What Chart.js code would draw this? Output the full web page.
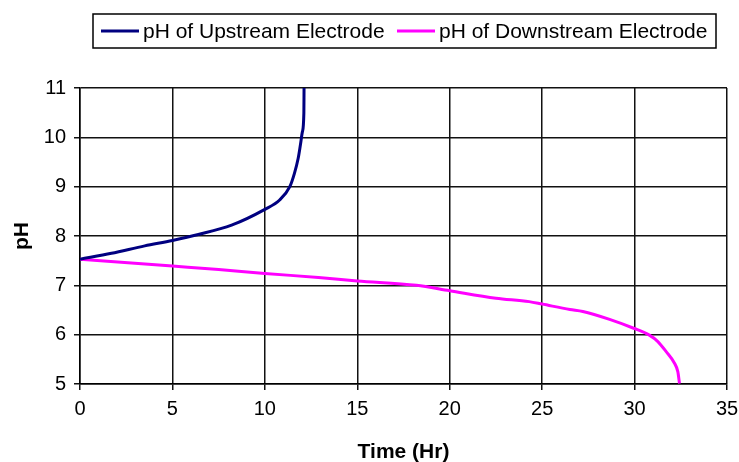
<!DOCTYPE html>
<html>
<head>
<meta charset="utf-8">
<script src="https://cdn.jsdelivr.net/npm/chart.js@4/dist/chart.umd.min.js"></script>
<style>
  html, body { margin: 0; padding: 0; background: #fff; }
  #wrap { width: 739px; height: 462px; }
</style>
</head>
<body>
<div id="wrap"><canvas id="phChart" width="739" height="462"></canvas></div>
<script>
// Upstream electrode readings
const upTime = [0, 1.7, 3.5, 5.0, 6.4, 8.2, 10.0, 10.8, 11.35, 11.6, 11.8, 11.92, 12.03, 12.11, 12.12];
const upPH   = [7.53, 7.65, 7.80, 7.91, 8.03, 8.22, 8.54, 8.73, 9.0, 9.27, 9.57, 9.84, 10.11, 10.49, 11.0];

// Downstream electrode readings
const downTime = [0, 5, 7.5, 10, 12.9, 15, 18.2, 20, 22.5, 24.3, 25, 26.5, 27.2, 28.65, 29.95, 30.8, 31.26, 31.7, 32.16, 32.34, 32.43];
const downPH   = [7.53, 7.39, 7.32, 7.24, 7.16, 7.09, 7.0, 6.89, 6.74, 6.67, 6.62, 6.51, 6.47, 6.31, 6.13, 5.99, 5.86, 5.66, 5.42, 5.25, 5.01];

const seriesNames = ['pH of Upstream Electrode', 'pH of Downstream Electrode'];
const seriesColors = ['#000080', '#FF00FF'];

const FONT = '"Liberation Sans", Arial, sans-serif';

function toPoints(xs, ys) {
    return xs.map((x, i) => ({ x: x, y: ys[i] }));
}

// boxed legend across the top
const boxedLegend = {
    id: 'boxedLegend',
    afterDraw(chart) {
        const ctx = chart.ctx;
        ctx.save();
        ctx.strokeStyle = '#000';
        ctx.lineWidth = 1.5;
        ctx.strokeRect(93, 14, 623, 34);
        ctx.font = '21px ' + FONT;
        ctx.textBaseline = 'middle';
        ctx.fillStyle = '#000';
        const starts = [101, 397];
        chart.data.datasets.forEach((ds, i) => {
            const x = starts[i];
            ctx.beginPath();
            ctx.strokeStyle = ds.borderColor;
            ctx.lineWidth = 3;
            ctx.moveTo(x, 31);
            ctx.lineTo(x + 38, 31);
            ctx.stroke();
            ctx.fillText(ds.label, x + 42, 32);
        });
        ctx.restore();
    }
};

new Chart(document.getElementById('phChart').getContext('2d'), {
    type: 'scatter',
    data: {
        datasets: [
            {
                label: seriesNames[0],
                data: toPoints(upTime, upPH),
                borderColor: seriesColors[0],
                backgroundColor: seriesColors[0],
                showLine: true,
                borderWidth: 3,
                pointRadius: 0,
                cubicInterpolationMode: 'monotone'
            },
            {
                label: seriesNames[1],
                data: toPoints(downTime, downPH),
                borderColor: seriesColors[1],
                backgroundColor: seriesColors[1],
                showLine: true,
                borderWidth: 3,
                pointRadius: 0,
                cubicInterpolationMode: 'monotone'
            }
        ]
    },
    options: {
        responsive: false,
        animation: false,
        events: [],
        layout: { padding: { top: 88, right: 12, left: 0, bottom: 0 } },
        plugins: {
            legend: { display: false },
            tooltip: { enabled: false }
        },
        scales: {
            x: {
                type: 'linear',
                min: 0,
                max: 35,
                afterFit: (scale) => {
                    scale.height = 78;
                    scale.paddingLeft = 0;
                    scale.paddingRight = 0;
                },
                ticks: {
                    stepSize: 5,
                    color: '#000',
                    padding: 7,
                    font: { family: FONT, size: 20 }
                },
                grid: { color: '#111', lineWidth: 1.5, tickLength: 6 },
                border: { color: '#000', width: 1.5 },
                title: {
                    display: true,
                    text: 'Time (Hr)',
                    color: '#000',
                    font: { family: FONT, size: 21, weight: 'bold', lineHeight: 1 },
                    padding: { top: 0, bottom: -1 }
                }
            },
            y: {
                min: 5,
                max: 11,
                afterFit: (scale) => {
                    scale.width = 80;
                    scale.paddingTop = 0;
                    scale.paddingBottom = 0;
                },
                ticks: {
                    stepSize: 1,
                    color: '#000',
                    padding: 8,
                    font: { family: FONT, size: 20 }
                },
                grid: { color: '#111', lineWidth: 1.5, tickLength: 6 },
                border: { color: '#000', width: 1.5 },
                title: {
                    display: true,
                    text: 'pH',
                    color: '#000',
                    font: { family: FONT, size: 21, weight: 'bold', lineHeight: 1 },
                    padding: { top: 12, bottom: 0 }
                }
            }
        }
    },
    plugins: [boxedLegend]
});
</script>
</body>
</html>
